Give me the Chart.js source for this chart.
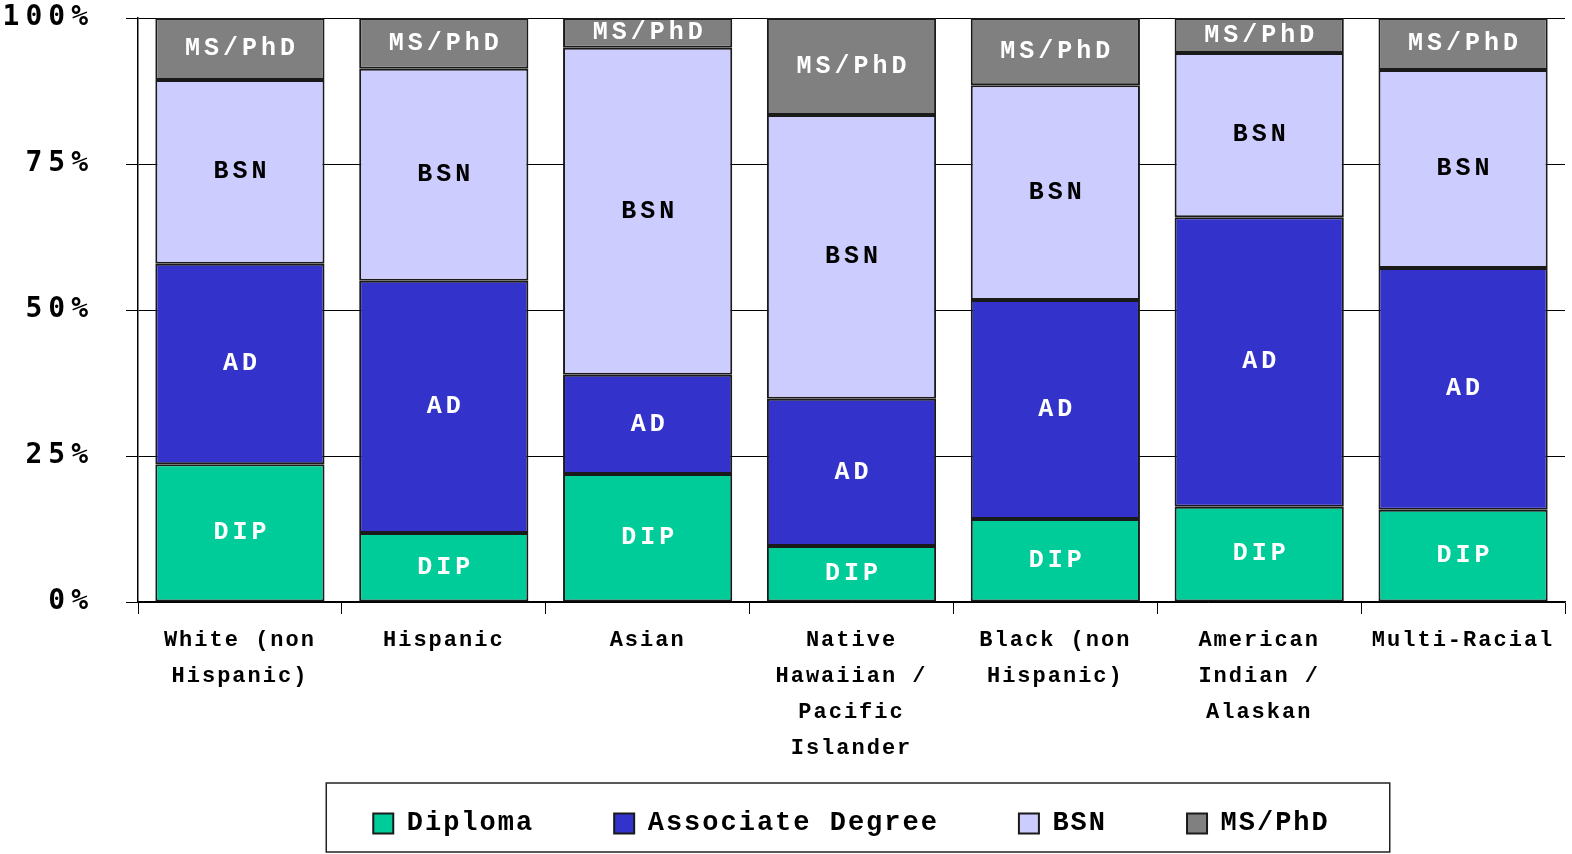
<!DOCTYPE html>
<html>
<head>
<meta charset="utf-8">
<title>Nursing education by race / ethnicity</title>
<script src="https://cdn.jsdelivr.net/npm/chart.js@4.4.1/dist/chart.umd.min.js"></script>
<style>
  html, body { margin: 0; padding: 0; background: #fff; }
</style>
</head>
<body>
<canvas id="chart" width="1572" height="854"></canvas>
<script>
// categories (multi-line labels as arrays)
const categories = [
  ["White (non", "Hispanic)"],
  "Hispanic",
  "Asian",
  ["Native", "Hawaiian /", "Pacific", "Islander"],
  ["Black (non", "Hispanic)"],
  ["American", "Indian /", "Alaskan"],
  "Multi-Racial"
];

// share of nurses by highest education, percent
const diploma = [23.6, 11.8, 21.9, 9.6, 14.2, 16.3, 15.8];
const associate = [34.3, 43.2, 17.0, 25.2, 37.5, 49.6, 41.4];
const bsn = [31.5, 36.3, 56.0, 48.6, 36.8, 28.1, 33.9];
const msPhd = [10.6, 8.7, 5.1, 16.6, 11.5, 6.0, 8.9];

const seriesNames = ["Diploma", "Associate Degree", "BSN", "MS/PhD"];
const segmentTags = ["DIP", "AD", "BSN", "MS/PhD"];
const yTicks = [0, 25, 50, 75, 100];

const colors = ["#00cc99", "#3333cc", "#ccccff", "#808080"];
const tagColors = ["#ffffff", "#ffffff", "#000000", "#ffffff"];
const mono = "'Liberation Mono', 'Courier New', monospace";

// canvas letterSpacing isn't a Chart.js option, so it's set on the context here
const textPlugin = {
  id: "textPlugin",
  beforeUpdate(chart) { chart.ctx.letterSpacing = "2px"; },
  afterLayout(chart) {
    // legend rows start at top + padding; pull them up into the space under the axis
    const legend = chart.legend;
    const itemTop = 810;
    legend.top = itemTop - legend.options.labels.padding;
    legend.bottom = chart.height;
    legend.height = legend.bottom - legend.top;
  },
  beforeDraw(chart) { chart.ctx.letterSpacing = "2px"; },
  afterDatasetsDraw(chart) {
    const ctx = chart.ctx;
    ctx.save();
    ctx.font = "bold 25px " + mono;
    ctx.letterSpacing = "4px";
    ctx.textAlign = "center";
    ctx.textBaseline = "middle";
    chart.data.datasets.forEach((ds, i) => {
      ctx.fillStyle = tagColors[i];
      chart.getDatasetMeta(i).data.forEach(bar => {
        ctx.fillText(segmentTags[i], bar.x + 2, (bar.y + bar.base) / 2);
      });
    });
    ctx.restore();
    // y tick labels come right after this (ticks.z = 1)
    ctx.letterSpacing = "6px";
  },
  afterDraw(chart) {
    const ctx = chart.ctx;
    ctx.letterSpacing = "2px";
    // frame around the legend
    const boxes = chart.legend.legendHitBoxes;
    if (!boxes || !boxes.length) return;
    const first = boxes[0];
    const last = boxes[boxes.length - 1];
    const left = first.left - 47;
    const right = last.left + last.width + 60;
    const top = first.top - 27;
    const bottom = first.top + first.height + 15;
    ctx.save();
    ctx.strokeStyle = "#222";
    ctx.lineWidth = 1.5;
    ctx.strokeRect(left, top, right - left, bottom - top);
    ctx.restore();
  }
};

const datasets = [diploma, associate, bsn, msPhd].map((values, i) => ({
  label: seriesNames[i],
  data: values,
  backgroundColor: colors[i],
  borderColor: "#1a1a1a",
  borderWidth: 2,
  borderSkipped: false,
  barPercentage: 0.83,
  categoryPercentage: 1.0
}));

new Chart(document.getElementById("chart"), {
  type: "bar",
  data: { labels: categories, datasets: datasets },
  plugins: [textPlugin],
  options: {
    responsive: false,
    animation: false,
    layout: { padding: { top: 18, right: 7, bottom: 27, left: 0 } },
    scales: {
      x: {
        stacked: true,
        grid: {
          drawOnChartArea: false,
          drawTicks: true,
          tickLength: 12,
          color: "#000",
          lineWidth: 1,
          offset: true
        },
        border: { color: "#000", width: 1.5 },
        ticks: {
          color: "#000",
          autoSkip: false,
          maxRotation: 0,
          padding: 8,
          font: { family: mono, size: 22, weight: "bold", lineHeight: "36px" }
        },
        afterFit(scale) { scale.height = 165; }
      },
      y: {
        stacked: true,
        min: 0,
        max: 100,
        afterBuildTicks(scale) {
          scale.ticks = yTicks.map(v => ({ value: v }));
        },
        grid: { color: "#000", lineWidth: 1, tickLength: 12 },
        border: { color: "#000", width: 1.5 },
        ticks: {
          z: 1,
          color: "#000",
          padding: 32,
          callback: v => v + "%",
          font: { family: "'DejaVu Sans Mono', monospace", size: 28, weight: "bold" }
        },
        afterFit(scale) {
          scale.width = 138;
          // tick padding would otherwise push the plot down
          scale.paddingTop = 0;
          scale.paddingBottom = 0;
        }
      }
    },
    plugins: {
      tooltip: { enabled: false },
      legend: {
        position: "bottom",
        fullSize: false,
        maxHeight: 60,
        labels: {
          color: "#000",
          boxWidth: 20,
          boxHeight: 20,
          padding: 80,
          font: { family: mono, size: 27, weight: "bold" }
        }
      }
    }
  }
});
</script>
</body>
</html>
